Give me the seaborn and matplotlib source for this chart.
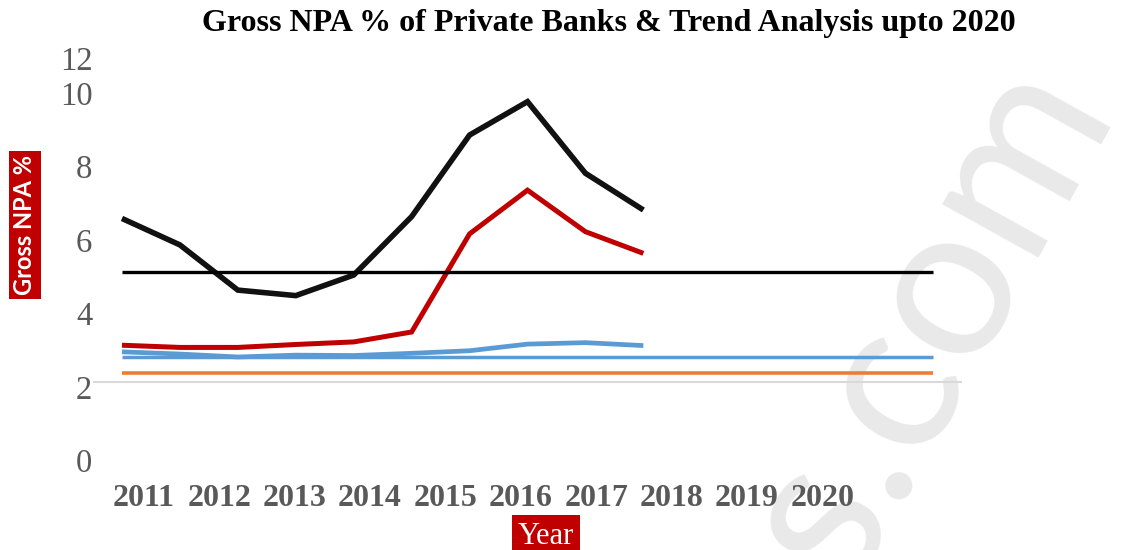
import numpy as np
import pandas as pd
import matplotlib
matplotlib.use("Agg")
import matplotlib.pyplot as plt
from matplotlib.transforms import ScaledTranslation
import seaborn as sns

# ---- data -----------------------------------------------------------------
years = ["2011", "2012", "2013", "2014", "2015", "2016", "2017", "2018", "2019", "2020"]

npa_black = [6.45, 5.73, 4.50, 4.35, 4.91, 6.50, 8.72, 9.63, 7.68, 6.68]
npa_red = [3.00, 2.94, 2.94, 3.02, 3.09, 3.36, 6.03, 7.22, 6.09, 5.50]
npa_blue = [2.82, 2.76, 2.68, 2.73, 2.72, 2.78, 2.85, 3.03, 3.07, 2.99]

# flat trend levels, drawn across the full 15-slot category range
trend_black = 4.98
trend_blue = 2.69
trend_orange = 2.25
trend_slots = 15

y_tick_values = [0, 2, 4, 6, 8, 10, 10.95]
y_tick_labels = ["0", "2", "4", "6", "8", "10", "12"]

# ---- figure ---------------------------------------------------------------
sns.set_theme(style="white")
plt.rcParams["font.family"] = ["Liberation Serif", "DejaVu Serif"]

W, H = 1148, 550
fig = plt.figure(figsize=(W / 100, H / 100), dpi=100)
fig.patch.set_facecolor("white")

ax = fig.add_axes([93 / W, 72.5 / H, 869 / W, 444.6 / H])
ax.set_facecolor("none")

# light watermark behind the plot
fig.text(758 / W, 1 - 737 / H, "ms.com", rotation=61, rotation_mode="anchor",
         ha="left", va="baseline", fontsize=156, color="#e9e9e9",
         family=["Lato", "DejaVu Sans"], zorder=-5)

# baseline gridline at 2
ax.axhline(2, color="#d9d9d9", lw=1.5, zorder=1)

curve_pos = np.arange(len(years))
curves = [
    (npa_black, "#111111", 4.0),
    (npa_red, "#c00000", 3.6),
    (npa_blue, "#5b9bd5", 3.4),
]
for vals, col, lw in curves:
    df = pd.DataFrame({"pos": curve_pos, "value": vals})
    sns.lineplot(data=df, x="pos", y="value", ax=ax, color=col, linewidth=lw,
                 sort=False, zorder=3,
                 solid_capstyle="butt", solid_joinstyle="miter")

trend_pos = np.arange(trend_slots)
trends = [
    (trend_black, "#000000", 2.4),
    (trend_blue, "#5b9bd5", 2.5),
    (trend_orange, "#ed7d31", 2.6),
]
for level, col, lw in trends:
    df = pd.DataFrame({"pos": trend_pos, "value": np.full(trend_slots, level)})
    sns.lineplot(data=df, x="pos", y="value", ax=ax, color=col, linewidth=lw,
                 zorder=4, solid_capstyle="butt")

ax.set_xlim(-0.5, trend_slots - 0.5)
ax.set_ylim(-0.6, 11.5)

# axis labels / ticks
ax.set_xlabel("")
ax.set_ylabel("")
for s in ax.spines.values():
    s.set_visible(False)

ax.set_yticks(y_tick_values)
ax.set_yticklabels(y_tick_labels, fontsize=23.5, color="#595959")
ax.tick_params(axis="y", length=0, pad=0.5)
shift = ScaledTranslation(0, -5 / 100, fig.dpi_scale_trans)
for lab in ax.get_yticklabels():
    lab.set_transform(lab.get_transform() + shift)

year_tick_pos = np.linspace(0.375, 12.09, len(years))
ax.set_xticks(year_tick_pos)
ax.set_xticklabels(years, fontsize=23, fontweight="bold", color="#595959")
ax.tick_params(axis="x", length=0, pad=4.5)

fig.text(609 / W, 1 - 23 / H, "Gross NPA % of Private Banks & Trend Analysis upto 2020",
         ha="center", va="center", fontsize=23, fontweight="bold", color="black")

fig.text(25 / W, 1 - 225 / H, "Gross NPA %", rotation=90, ha="center", va="center",
         fontsize=17, fontweight="bold", color="white", family=["Lato", "DejaVu Sans"],
         bbox=dict(boxstyle="square,pad=0.18", fc="#c00000", ec="none"))

fig.text(546 / W, 1 - 536 / H, "Year", ha="center", va="center", fontsize=22,
         color="white",
         bbox=dict(boxstyle="square,pad=0.2", fc="#c00000", ec="none"))

fig.savefig("out.png", dpi=100, facecolor="white")
